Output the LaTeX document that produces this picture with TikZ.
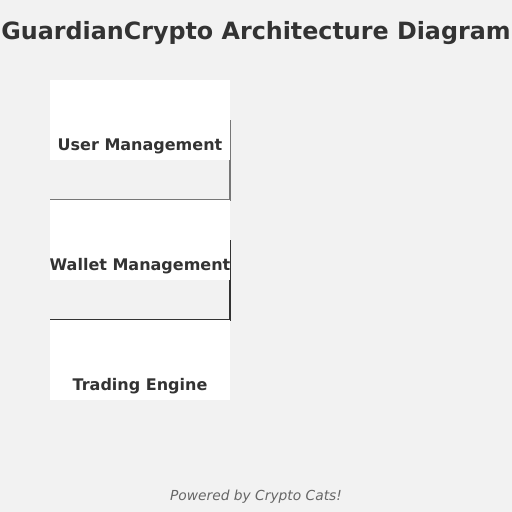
\documentclass[tikz,border=0pt]{standalone}
\usepackage{fontspec}
\setmainfont{DejaVu Sans}
\usetikzlibrary{positioning,backgrounds}
\definecolor{pagebg}{HTML}{F2F2F2}
\definecolor{inkdark}{HTML}{333333}
\definecolor{inkgray}{HTML}{777777}
\definecolor{footgray}{HTML}{666666}

\begin{document}
\begin{tikzpicture}[x=1pt,y=-1pt,thick]
    % `module' is used for the white component boxes.
    % `modlabel' is used for the text at the bottom of each box.
    % `link' is used for the elbow connectors between boxes.
    \tikzstyle{module} = [fill=white,minimum width=180pt,minimum height=80pt,inner sep=0pt,outer sep=0pt]
    \tikzstyle{modlabel} = [text=inkdark,font=\fontsize{16}{18}\selectfont\bfseries,inner sep=0pt]
    \tikzstyle{link} = [line width=1.4pt]
    %
    \useasboundingbox (0,0) rectangle (512,512);
    \node[text=inkdark,font=\fontsize{23.8}{26}\selectfont\bfseries] (title) at (256,33.5) {GuardianCrypto Architecture Diagram};
    %
    \node[module] (user) at (140,120) {};
    \node[module,below=40pt of user] (wallet) {};
    \node[module,below=40pt of wallet] (trading) {};
    %
    \node[modlabel] (userlbl) at ([yshift=13.5pt]user.south) {User Management};
    \node[modlabel] (walletlbl) at ([yshift=13.5pt]wallet.south) {Wallet Management};
    \node[modlabel] (tradinglbl) at ([yshift=13.5pt]trading.south) {Trading Engine};
    %
    \node[text=footgray,font=\fontsize{13.8}{16}\selectfont\itshape] (footer) at (256,497) {Powered by Crypto Cats!};
    \begin{pgfonlayer}{background}
        % Draw page and elbow connectors.
        \fill[pagebg] (0,0) rectangle (512,512);
        \draw[link,inkgray] (user.east) -- (user.east |- wallet.north) -- (wallet.north west);
        \draw[link,inkdark] (wallet.east) -- (wallet.east |- trading.north) -- (trading.north west);
    \end{pgfonlayer}
\end{tikzpicture}
\end{document}
